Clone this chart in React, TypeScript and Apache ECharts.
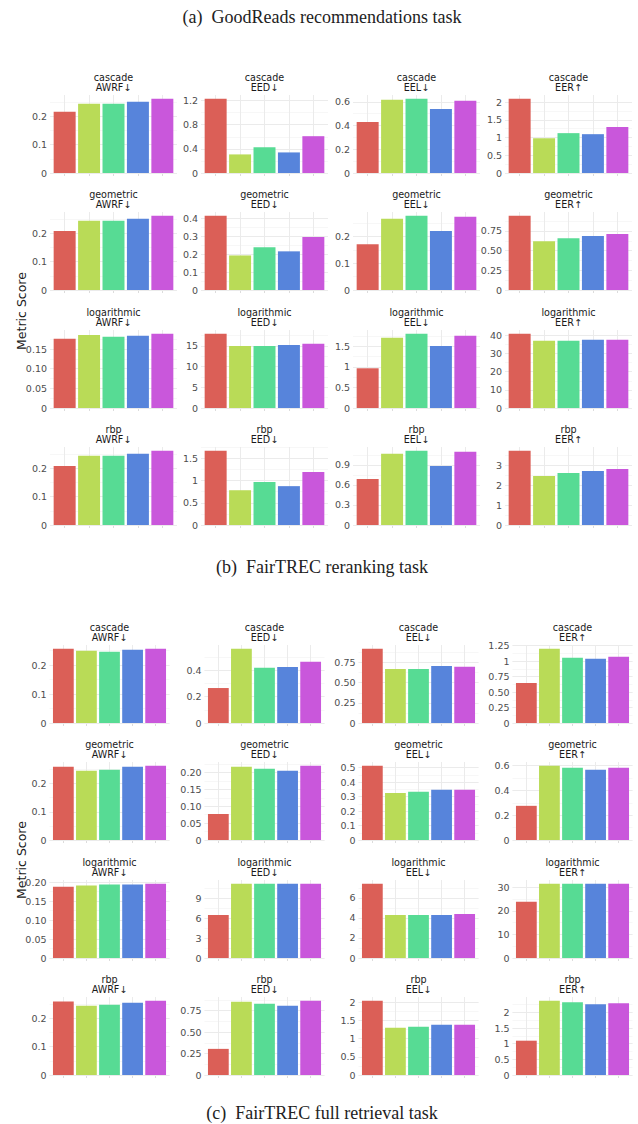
import React, { useEffect, useRef } from 'react';
import * as echarts from 'echarts';

// ---------- data ----------
const SYSTEMS = ['System 1', 'System 2', 'System 3', 'System 4', 'System 5'];
const COLORS = ['#db5f57', '#b9db57', '#57db94', '#5784db', '#c957db'];
const WEIGHTINGS = ['cascade', 'geometric', 'logarithmic', 'rbp'];
const METRICS = ['AWRF↓', 'EED↓', 'EEL↓', 'EER↑'];

const CAPTION_A = '(a)\u2002GoodReads recommendations task';
const CAPTION_B = '(b)\u2002FairTREC reranking task';
const CAPTION_C = '(c)\u2002FairTREC full retrieval task';

// FairTREC reranking task (upper figure), rows = weighting, cols = metric
const rerankCascade = [
  [0.216, 0.244, 0.244, 0.251, 0.262],
  [1.231, 0.308, 0.425, 0.341, 0.61],
  [0.429, 0.617, 0.626, 0.54, 0.608],
  [2.095, 0.98, 1.124, 1.095, 1.295],
];
const rerankGeometric = [
  [0.207, 0.243, 0.243, 0.25, 0.261],
  [0.417, 0.194, 0.24, 0.217, 0.297],
  [0.171, 0.266, 0.277, 0.22, 0.273],
  [0.944, 0.621, 0.659, 0.685, 0.711],
];
const rerankLogarithmic = [
  [0.176, 0.186, 0.181, 0.184, 0.189],
  [17.95, 15.0, 15.0, 15.25, 15.5],
  [0.965, 1.707, 1.805, 1.509, 1.756],
  [40.9, 37.0, 37.0, 37.6, 37.6],
];
const rerankRbp = [
  [0.208, 0.244, 0.244, 0.251, 0.262],
  [1.675, 0.784, 0.967, 0.876, 1.196],
  [0.688, 1.067, 1.112, 0.885, 1.097],
  [3.75, 2.47, 2.62, 2.73, 2.83],
];
// tick step and decimals per panel
const rerankTickStep = [
  [0.1, 0.4, 0.2, 0.5],
  [0.1, 0.1, 0.1, 0.25],
  [0.05, 5, 0.5, 10],
  [0.1, 0.5, 0.3, 1],
];
const rerankTickDecimals = [
  [1, 1, 1, 1],
  [1, 1, 1, 2],
  [2, 0, 1, 0],
  [1, 1, 1, 0],
];

// FairTREC full retrieval task (lower figure)
const fullCascade = [
  [0.257, 0.25, 0.2465, 0.2535, 0.257],
  [0.265, 0.563, 0.418, 0.425, 0.464],
  [0.921, 0.671, 0.671, 0.708, 0.696],
  [0.647, 1.201, 1.054, 1.038, 1.071],
];
const fullGeometric = [
  [0.259, 0.245, 0.2485, 0.259, 0.263],
  [0.077, 0.217, 0.211, 0.205, 0.22],
  [0.514, 0.326, 0.333, 0.347, 0.347],
  [0.276, 0.6, 0.584, 0.568, 0.584],
];
const fullLogarithmic = [
  [0.188, 0.191, 0.194, 0.194, 0.196],
  [6.51, 11.24, 11.24, 11.24, 11.24],
  [7.41, 4.29, 4.29, 4.29, 4.39],
  [23.86, 31.57, 31.57, 31.57, 31.57],
];
const fullRbp = [
  [0.258, 0.2435, 0.247, 0.254, 0.261],
  [0.305, 0.855, 0.832, 0.809, 0.867],
  [2.037, 1.294, 1.321, 1.376, 1.376],
  [1.097, 2.375, 2.323, 2.258, 2.29],
];
const fullTickStep = [
  [0.1, 0.2, 0.25, 0.25],
  [0.1, 0.05, 0.1, 0.2],
  [0.05, 3, 2, 10],
  [0.1, 0.25, 0.5, 0.5],
];
const fullTickDecimals = [
  [1, 1, 2, 2],
  [1, 2, 1, 1],
  [2, 0, 0, 0],
  [1, 2, 1, 1],
];

// ---------- layout ----------
const SANS = 'DejaVu Sans';
const SERIF = 'Liberation Serif';
const PLOT_H = 78;

const FIGURES = [
  {
    name: 'reranking',
    rows: [rerankCascade, rerankGeometric, rerankLogarithmic, rerankRbp],
    steps: rerankTickStep,
    decimals: rerankTickDecimals,
    colLeft: [50, 201, 353, 505],
    width: 127,
    zeros: [173, 290, 408, 525],
    yLabelY: 311,
  },
  {
    name: 'full retrieval',
    rows: [fullCascade, fullGeometric, fullLogarithmic, fullRbp],
    steps: fullTickStep,
    decimals: fullTickDecimals,
    colLeft: [49.5, 204.5, 358.5, 512.5],
    width: 120,
    zeros: [723, 840, 958, 1075],
    yLabelY: 860,
  },
];

const makeFormatter = (dec: number) => (v: number) => {
  if (Math.abs(v) < 1e-12) return '0';
  if (Math.abs(v - Math.round(v)) < 1e-9) return String(Math.round(v));
  return v.toFixed(dec);
};

function buildOption() {
  const grid: any[] = [];
  const xAxis: any[] = [];
  const yAxis: any[] = [];
  const series: any[] = [];
  const graphic: any[] = [];

  FIGURES.forEach((fig) => {
    fig.rows.forEach((rowData, r) => {
      rowData.forEach((vals, c) => {
        const idx = grid.length;
        const left = fig.colLeft[c];
        const zero = fig.zeros[r];
        const top = zero - PLOT_H;
        const W = fig.width;
        const maxV = Math.max(...vals) * 1.05;
        const step = fig.steps[r][c];
        grid.push({ left, top, width: W, height: PLOT_H });
        xAxis.push({
          type: 'value',
          gridIndex: idx,
          min: 0.4,
          max: 5.6,
          axisLine: { show: false },
          axisLabel: { show: false },
          axisTick: {
            show: true,
            customValues: [1, 2, 3, 4, 5],
            length: 3,
            lineStyle: { color: '#dcdcdc', width: 1 },
          },
          splitLine: { show: true, lineStyle: { color: '#ebebeb', width: 1 } },
        });
        yAxis.push({
          type: 'value',
          gridIndex: idx,
          min: 0,
          max: maxV,
          interval: step,
          z: 1,
          axisLine: { show: false },
          axisTick: { show: false },
          axisLabel: {
            formatter: makeFormatter(fig.decimals[r][c]),
            fontSize: 9.5,
            color: '#4d4d4d',
            fontFamily: SANS,
            margin: 3,
            showMaxLabel: false,
          },
          splitLine: {
            show: true,
            showMaxLine: false,
            lineStyle: { color: '#ebebeb', width: 1 },
          },
        });
        yAxis.push({
          type: 'value',
          gridIndex: idx,
          position: 'left',
          min: 0,
          max: maxV,
          interval: step / 2,
          z: 0,
          axisLine: { show: false },
          axisTick: { show: false },
          axisLabel: { show: false },
          splitLine: {
            show: true,
            showMaxLine: false,
            lineStyle: { color: '#f4f4f4', width: 0.7 },
          },
        });
        series.push({
          type: 'bar',
          name: `${fig.name} ${WEIGHTINGS[r]} ${METRICS[c]}`,
          xAxisIndex: idx,
          yAxisIndex: idx * 2,
          barWidth: (0.9 * W) / 5.2,
          z: 2,
          data: vals.map((v, i) => ({
            name: SYSTEMS[i],
            value: [i + 1, v],
            itemStyle: { color: COLORS[i] },
          })),
        });
        graphic.push({
          type: 'text',
          x: left + W / 2,
          y: zero - 91,
          style: {
            text: `${WEIGHTINGS[r]}\n${METRICS[c]}`,
            fontSize: 9.6,
            lineHeight: 10,
            fontFamily: SANS,
            fill: '#1a1a1a',
            align: 'center',
            verticalAlign: 'middle',
          },
        });
      });
    });
    graphic.push({
      type: 'text',
      x: 21,
      y: fig.yLabelY,
      rotation: Math.PI / 2,
      style: {
        text: 'Metric Score',
        fontSize: 12.5,
        fontFamily: SANS,
        fill: '#1a1a1a',
        align: 'center',
        verticalAlign: 'middle',
      },
    });
  });

  const captions = [
    { text: CAPTION_A, y: 17 },
    { text: CAPTION_B, y: 567 },
    { text: CAPTION_C, y: 1113 },
  ];
  captions.forEach((cap) => {
    graphic.push({
      type: 'text',
      x: 322,
      y: cap.y,
      style: {
        text: cap.text,
        fontSize: 18,
        fontFamily: SERIF,
        fill: '#222222',
        align: 'center',
        verticalAlign: 'middle',
      },
    });
  });

  return {
    animation: false,
    backgroundColor: '#ffffff',
    grid,
    xAxis,
    yAxis,
    series,
    graphic,
  };
}

export default function App() {
  const ref = useRef<HTMLDivElement>(null);
  useEffect(() => {
    document.body.style.margin = '0';
    if (!ref.current) return;
    const chart = echarts.init(ref.current, undefined, { renderer: 'svg' });
    chart.setOption(buildOption() as any);
    return () => chart.dispose();
  }, []);
  return <div ref={ref} style={{ width: 638, height: 1124 }} />;
}
